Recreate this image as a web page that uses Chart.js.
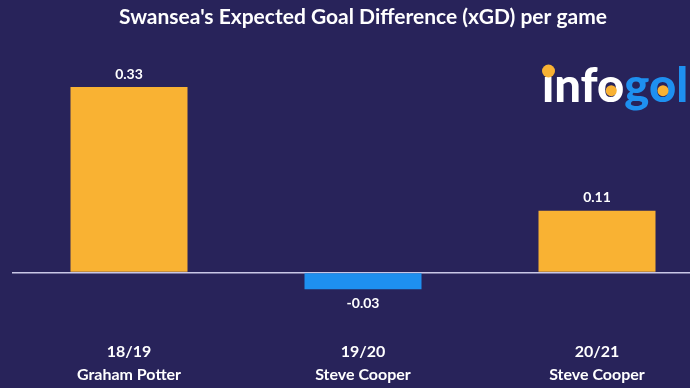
<!DOCTYPE html>
<html>
<head>
<meta charset="utf-8">
<script src="https://cdn.jsdelivr.net/npm/chart.js@4"></script>
<style>
  html, body { margin: 0; padding: 0; overflow: hidden; background: #28235a; }
  #wrap { width: 726px; height: 401px; }
</style>
</head>
<body>
<div id="wrap"><canvas id="xgd"></canvas></div>
<script>
var seasons = [["18/19", "Graham Potter"], ["19/20", "Steve Cooper"], ["20/21", "Steve Cooper"]];
var xgdValues = [0.33, -0.03, 0.11];
var barColors = ["#f9b233", "#1e90f0", "#f9b233"];

// value labels above / below each bar
var valueLabels = {
  id: "valueLabels",
  afterDatasetsDraw: function (chart) {
    var ctx = chart.ctx;
    var meta = chart.getDatasetMeta(0);
    ctx.save();
    ctx.fillStyle = "#ffffff";
    ctx.font = "bold 14px Lato";
    ctx.textAlign = "center";
    ctx.textBaseline = "middle";
    meta.data.forEach(function (bar, i) {
      var v = xgdValues[i];
      var y = v >= 0 ? bar.y - 13 : bar.y + 14;
      ctx.fillText(v.toFixed(2), bar.x, y);
    });
    ctx.restore();
  }
};

// infogol logo, top right
var logo = {
  id: "logo",
  afterDraw: function (chart) {
    var ctx = chart.ctx;
    ctx.save();
    ctx.font = "900 50px Lato";
    var size = 50 * 146 / ctx.measureText("infogol").width;
    ctx.font = "900 " + size + "px Lato";
    ctx.textBaseline = "alphabetic";
    var x = 542, y = 102;
    ctx.fillStyle = "#ffffff";
    ctx.fillText("info", x, y);
    var w1 = ctx.measureText("info").width;
    var wInf = ctx.measureText("inf").width;
    var wO = ctx.measureText("o").width;
    ctx.fillStyle = "#1e90f0";
    ctx.fillText("gol", x + w1, y);
    var wG = ctx.measureText("g").width;
    ctx.fillStyle = "#f9b233";
    ctx.beginPath();
    ctx.arc(x + wInf + wO / 2, y - size * 0.24, 5.5, 0, Math.PI * 2);
    ctx.fill();
    ctx.beginPath();
    ctx.arc(x + w1 + wG + wO / 2, y - size * 0.24, 5.5, 0, Math.PI * 2);
    ctx.fill();
    // ball above the i
    ctx.beginPath();
    ctx.arc(x + 6.5, y - 31, 6.5, 0, Math.PI * 2);
    ctx.fill();
    ctx.restore();
  }
};

new Chart("xgd", {
  type: "bar",
  data: {
    labels: seasons,
    datasets: [{
      label: "xGD per game",
      data: xgdValues,
      backgroundColor: barColors,
      categoryPercentage: 1,
      barPercentage: 0.5
    }]
  },
  options: {
    responsive: true,
    maintainAspectRatio: false,
    animation: false,
    layout: { padding: { left: 12, right: 12, top: 0, bottom: 3 } },
    plugins: {
      legend: { display: false },
      tooltip: { enabled: false },
      title: {
        display: true,
        text: "Swansea's Expected Goal Difference (xGD) per game",
        color: "#ffffff",
        font: { family: "Lato", size: 21, weight: "bold" },
        padding: { top: 5, bottom: 17.6 }
      }
    },
    scales: {
      x: {
        grid: { display: false, drawTicks: false },
        border: { display: false },
        ticks: {
          color: "#ffffff",
          padding: 12,
          font: { family: "Lato", size: 16, weight: "bold", lineHeight: 1.42 }
        }
      },
      y: {
        min: -0.1,
        max: 0.4,
        border: { display: false },
        grid: {
          drawTicks: false,
          lineWidth: 1.5,
          color: function (c) { return c.tick.value === 0 ? "#c9c7e6" : "rgba(0,0,0,0)"; }
        },
        ticks: { display: false, stepSize: 0.1 }
      }
    }
  },
  plugins: [valueLabels, logo]
});
</script>
</body>
</html>
